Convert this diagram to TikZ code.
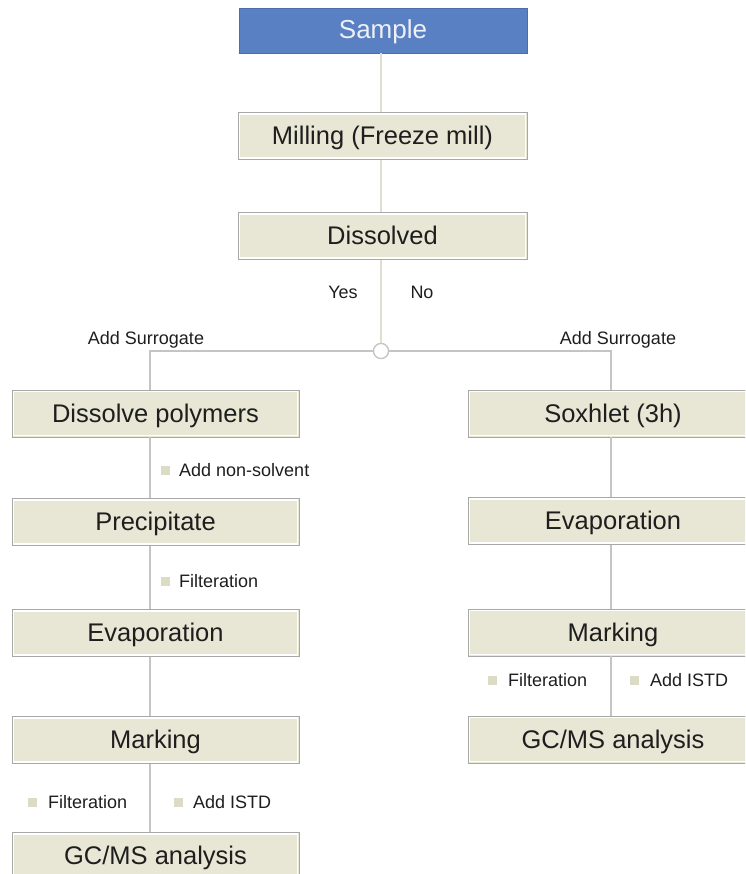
\documentclass[tikz,border=0pt]{standalone}
\usepackage{fontspec}
\setmainfont{Liberation Sans}
\definecolor{beige}{HTML}{E8E7D5}
\definecolor{boxgray}{HTML}{A8A8A8}
\definecolor{sampleblue}{HTML}{5A80C4}
\definecolor{samplefg}{HTML}{EEF0F6}
\definecolor{linegray}{HTML}{C4C4C4}
\definecolor{toplinec}{HTML}{E0DECE}
\definecolor{bulletc}{HTML}{DCDCC6}
\definecolor{txt}{HTML}{1E1E1E}
\begin{document}
\begin{tikzpicture}[x=1pt,y=-1pt,
  stepbox/.style={draw=boxgray, line width=0.8pt, fill=beige, inner sep=0pt,
    minimum height=47pt, text=txt, font=\fontsize{25.5}{30}\selectfont,
    text height=17pt, text depth=-1pt,
    path picture={\draw[white,line width=1.6pt]
      ([shift={(1.6pt,-1.6pt)}]path picture bounding box.north west) rectangle
      ([shift={(-1.6pt,1.6pt)}]path picture bounding box.south east);}},
  topbox/.style={stepbox, minimum width=289pt},
  lbox/.style={stepbox, minimum width=287pt},
  rbox/.style={stepbox, minimum width=290pt},
  samplebox/.style={fill=sampleblue, draw=sampleblue!85!black, line width=0.6pt,
    inner sep=0pt, minimum width=288pt, minimum height=45pt, text=samplefg,
    font=\fontsize{26}{30}\selectfont, text height=17pt, text depth=-6pt},
  conn/.style={draw=linegray, line width=1.4pt},
  topconn/.style={draw=toplinec, line width=1.4pt},
  junction/.style={circle, draw=linegray, fill=white, line width=1.2pt,
    minimum size=15pt, inner sep=0pt},
  lbl/.style={text=txt, font=\fontsize{18}{21}\selectfont, inner sep=0pt,
    text height=13pt, text depth=0pt},
  bullet/.style={fill=bulletc, minimum size=9pt, inner sep=0pt}
]
\useasboundingbox (0,0) rectangle (745,874);
\clip (0,0) rectangle (745,874);

% top column
\node[samplebox] (sample) at (383,30.5) {Sample};
\node[topbox] (mill) at (382.5,136) {Milling (Freeze mill)};
\node[topbox] (diss) at (382.5,236) {Dissolved};
\node[junction] (c) at (381,351) {};
\node[lbl] (yes) at (343,292) {Yes};
\node[lbl] (no) at (422,292) {No};

% left column
\node[lbox] (dp) at (155.5,413.5) {Dissolve polymers};
\node[lbox] (pr) at (155.5,522) {Precipitate};
\node[lbox] (ev1) at (155.5,633) {Evaporation};
\node[lbox] (mk1) at (155.5,740) {Marking};
\node[lbox] (gc1) at (155.5,856) {GC/MS analysis};

% right column
\node[rbox] (sox) at (613,413.5) {Soxhlet (3h)};
\node[rbox] (ev2) at (613,521) {Evaporation};
\node[rbox] (mk2) at (613,632.5) {Marking};
\node[rbox] (gc2) at (613,739.5) {GC/MS analysis};

\coordinate (lx) at (150,351);
\coordinate (rx) at (611,351);

% connectors
\draw[topconn] (sample.south -| c) -- (mill.north -| c);
\draw[topconn] (mill.south -| c) -- (diss.north -| c);
\draw[topconn] (diss.south -| c) -- (c.north);
\draw[conn] (c.west) -- (lx) -- (dp.north -| lx);
\draw[conn] (c.east) -- (rx) -- (sox.north -| rx);
\draw[conn] (dp.south -| lx) -- (pr.north -| lx);
\draw[conn] (pr.south -| lx) -- (ev1.north -| lx);
\draw[conn] (ev1.south -| lx) -- (mk1.north -| lx);
\draw[conn] (mk1.south -| lx) -- (gc1.north -| lx);
\draw[conn] (sox.south -| rx) -- (ev2.north -| rx);
\draw[conn] (ev2.south -| rx) -- (mk2.north -| rx);
\draw[conn] (mk2.south -| rx) -- (gc2.north -| rx);
\node[junction] (c2) at (c) {};

% labels
\node[lbl] (sl) at (146,338) {Add Surrogate};
\node[lbl] (sr) at (618,338) {Add Surrogate};

\node[bullet] (b1) at (165,470) {};
\node[lbl, anchor=west] (t1) at (179,470) {Add non-solvent};
\node[bullet] (b2) at (165,581) {};
\node[lbl, anchor=west] (t2) at (179,581) {Filteration};
\node[bullet] (b3) at (32,802) {};
\node[lbl, anchor=west] (t3) at (48,802) {Filteration};
\node[bullet] (b4) at (178,802) {};
\node[lbl, anchor=west] (t4) at (193,802) {Add ISTD};
\node[bullet] (b5) at (492,680) {};
\node[lbl, anchor=west] (t5) at (508,680) {Filteration};
\node[bullet] (b6) at (634,680) {};
\node[lbl, anchor=west] (t6) at (650,680) {Add ISTD};
\end{tikzpicture}
\end{document}
